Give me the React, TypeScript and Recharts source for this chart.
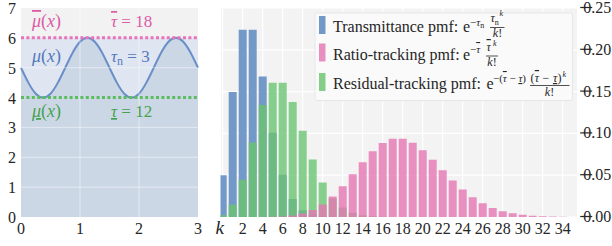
import React from 'react';
import {
  ComposedChart,
  BarChart,
  Bar,
  Area,
  XAxis,
  YAxis,
  CartesianGrid,
  ReferenceLine,
} from 'recharts';

const FONT = '"Liberation Serif", "DejaVu Serif", serif';
const TEXT = '#262626';
const FS = { fontFamily: FONT };

// ---------- left panel data ----------
const xSamples = [
  0, 0.125, 0.25, 0.375, 0.5, 0.625, 0.75, 0.875, 1, 1.125, 1.25, 1.375, 1.5,
  1.625, 1.75, 1.875, 2, 2.125, 2.25, 2.375, 2.5, 2.625, 2.75, 2.875, 3,
];
const muValues = [
  5, 4.5, 4.13, 4, 4.13, 4.5, 5, 5.5, 5.87, 6, 5.87, 5.5, 5, 4.5, 4.13, 4, 4.13,
  4.5, 5, 5.5, 5.87, 6, 5.87, 5.5, 5,
];
const muMajorant = 6;
const muMinorant = 4;
const leftXTicks = [0, 1, 2, 3];
const leftYTicks = [0, 1, 2, 3, 4, 5, 6, 7];
const leftGridX = [1, 2];
const leftGridY = [1, 2, 3, 5];

// ---------- right panel data ----------
const kValues = [
  0, 1, 2, 3, 4, 5, 6, 7, 8, 9, 10, 11, 12, 13, 14, 15, 16, 17, 18, 19, 20, 21,
  22, 23, 24, 25, 26, 27, 28, 29, 30, 31, 32, 33, 34, 35,
];
const transmittancePmf = [
  0.0498, 0.1494, 0.224, 0.224, 0.168, 0.1008, 0.0504, 0.0216, 0.0081, 0.0027,
  0.0008, 0.0002, 0.0001, 0, 0, 0, 0, 0, 0, 0, 0, 0, 0, 0, 0, 0, 0, 0, 0, 0, 0,
  0, 0, 0, 0, 0,
];
const residualPmf = [
  0.0025, 0.0149, 0.0446, 0.0892, 0.1339, 0.1606, 0.1606, 0.1377, 0.1033,
  0.0688, 0.0413, 0.0225, 0.0113, 0.0052, 0.0022, 0.0009, 0.0003, 0.0001, 0, 0,
  0, 0, 0, 0, 0, 0, 0, 0, 0, 0, 0, 0, 0, 0, 0, 0,
];
const ratioPmf = [
  0, 0, 0, 0, 0, 0.0002, 0.0007, 0.0019, 0.0042, 0.0083, 0.015, 0.0245, 0.0368,
  0.051, 0.0655, 0.0786, 0.0885, 0.0936, 0.0936, 0.0887, 0.0798, 0.0684, 0.056,
  0.0438, 0.0328, 0.0237, 0.0164, 0.0109, 0.007, 0.0044, 0.0026, 0.0015,
  0.0008, 0.0005, 0.0002, 0.0001,
];
const rightXTicks = [0, 2, 4, 6, 8, 10, 12, 14, 16, 18, 20, 22, 24, 26, 28, 30, 32, 34];
const rightYTicks = [0, 0.05, 0.1, 0.15, 0.2, 0.25];
const rightYLabels = ['0.00', '0.05', '0.10', '0.15', '0.20', '0.25'];

const BLUE = '#7399c9';
const GREEN = 'rgb(106,196,112)';
const PINK = 'rgb(229,118,179)';

const leftData = xSamples.map((x, i) => ({ x, mu: muValues[i], band: muMajorant }));
const rightData = kValues.map((k, i) => ({
  k,
  transmittance: transmittancePmf[i],
  residual: residualPmf[i],
  ratio: ratioPmf[i],
}));

const LeftXTick = (p: any) => (
  <text x={p.x} y={p.y + 17} textAnchor="middle" fontSize={16} fontFamily={FONT} style={FS} fill={TEXT}>
    {p.payload.value}
  </text>
);
const LeftYTick = (p: any) => (
  <text x={p.x - 5} y={p.y + 6} textAnchor="end" fontSize={16} fontFamily={FONT} style={FS} fill={TEXT}>
    {p.payload.value}
  </text>
);
const RightXTick = (p: any) =>
  p.payload.value === 0 ? (
    <text x={p.x - 3} y={p.y + 16.5} textAnchor="middle" fontSize={19} fontStyle="italic" fontFamily={FONT} style={FS} fill={TEXT}>
      k
    </text>
  ) : (
    <text x={p.x} y={p.y + 17} textAnchor="middle" fontSize={16} fontFamily={FONT} style={FS} fill={TEXT}>
      {p.payload.value}
    </text>
  );
const RightYTick = (p: any) => {
  const idx = rightYTicks.indexOf(p.payload.value);
  return (
    <g>
      <text x={p.x + 5.5} y={p.y + 5} textAnchor="start" fontSize={16} fontFamily={FONT} style={FS} fill={TEXT}>
        {rightYLabels[idx]}
      </text>
      <line x1={p.x + 2.5} x2={p.x + 14.5} y1={p.y - 0.5} y2={p.y - 0.5} stroke={TEXT} strokeWidth={1.2} />
    </g>
  );
};

const it = { fontStyle: 'italic' as const };
const over = { textDecoration: 'overline' };
const under = { textDecoration: 'underline' };

const legendNames = ['Transmittance pmf:', 'Ratio-tracking pmf:', 'Residual-tracking pmf:'];
const legendColors = [BLUE, 'rgb(232,143,192)', 'rgb(134,205,138)'];
const legendBaselines = [32, 59.5, 89];

const Overlay = () => (
  <svg
    width={612}
    height={246}
    style={{ position: 'absolute', left: 0, top: 0, pointerEvents: 'none', fontFamily: FONT }}
    fontFamily={FONT}
  >
    {/* left panel annotations */}
    <g fontSize={18}>
      <text x={32} y={27} fill="#dc5aa6">
        <tspan style={{ ...it, ...over }}>μ</tspan>(<tspan style={it}>x</tspan>)
      </text>
      <text x={111} y={27} fill="#dc5aa6" fontSize={17}>
        <tspan style={{ ...it, ...over }}>τ</tspan> = 18
      </text>
      <text x={32} y={62} fill="#5479bd">
        <tspan style={it}>μ</tspan>(<tspan style={it}>x</tspan>)
      </text>
      <text x={111} y={62} fill="#5479bd" fontSize={17}>
        <tspan style={it}>τ</tspan>
        <tspan fontSize={12} dy={3}>n</tspan>
        <tspan dy={-3}> = 3</tspan>
      </text>
      <text x={32} y={117} fill="#45a24f">
        <tspan style={{ ...it, ...under }}>μ</tspan>(<tspan style={it}>x</tspan>)
      </text>
      <text x={111} y={117} fill="#45a24f" fontSize={17}>
        <tspan style={{ ...it, ...under }}>τ</tspan> = 12
      </text>
    </g>

    {/* legend */}
    <rect x={315} y={13} width={257.5} height={87.5} fill="#fafafa" stroke="#e6e6e6" strokeWidth={1} rx={2} />
    {legendNames.map((name, i) => (
      <g key={name}>
        <rect x={319} y={legendBaselines[i] - 16} width={6.5} height={18} fill={legendColors[i]} />
        <text x={333} y={legendBaselines[i]} fontSize={16} fill={TEXT}>
          {name}
        </text>
      </g>
    ))}
    <g fill={TEXT}>
      {/* row 1 */}
      <text x={463} y={32} fontSize={16}>e</text>
      <text x={470} y={25.5} fontSize={11}>
        −<tspan style={it}>τ</tspan>
        <tspan fontSize={8} dy={2}>n</tspan>
      </text>
      <text x={490.5} y={22} fontSize={12}>
        <tspan style={it}>τ</tspan>
        <tspan fontSize={8} dy={2.5}>n</tspan>
      </text>
      <text x={499.5} y={16} fontSize={8} style={it}>k</text>
      <line x1={490} x2={504.5} y1={27.5} y2={27.5} stroke={TEXT} strokeWidth={0.8} />
      <text x={497.5} y={37} fontSize={12} textAnchor="middle">
        <tspan style={it}>k</tspan>!
      </text>

      {/* row 2 */}
      <text x={463} y={59.5} fontSize={16}>e</text>
      <text x={470} y={53} fontSize={11}>
        −<tspan style={{ ...it, ...over }}>τ</tspan>
      </text>
      <text x={486.5} y={51} fontSize={12}>
        <tspan style={{ ...it, ...over }}>τ</tspan>
      </text>
      <text x={493} y={45.5} fontSize={8} style={it}>k</text>
      <line x1={486} x2={498} y1={56} y2={56} stroke={TEXT} strokeWidth={0.8} />
      <text x={492} y={65.5} fontSize={12} textAnchor="middle">
        <tspan style={it}>k</tspan>!
      </text>

      {/* row 3 */}
      <text x={486.5} y={89} fontSize={16}>e</text>
      <text x={493} y={82} fontSize={11} textLength={33} lengthAdjust="spacing">
        −(<tspan style={{ ...it, ...over }}>τ</tspan> − <tspan style={{ ...it, ...under }}>τ</tspan>)
      </text>
      <text x={530.5} y={82} fontSize={12} textLength={31} lengthAdjust="spacing">
        (<tspan style={{ ...it, ...over }}>τ</tspan> − <tspan style={{ ...it, ...under }}>τ</tspan>)
      </text>
      <text x={562.5} y={76.5} fontSize={8} style={it}>k</text>
      <line x1={530} x2={569.5} y1={85.5} y2={85.5} stroke={TEXT} strokeWidth={0.8} />
      <text x={549.5} y={95.5} fontSize={12} textAnchor="middle">
        <tspan style={it}>k</tspan>!
      </text>
    </g>
  </svg>
);

export default function App() {
  return (
    <div style={{ position: 'absolute', left: 0, top: 0, width: 612, height: 246, background: '#fff', fontFamily: FONT }}>
      <div style={{ position: 'absolute', left: 0, top: 0 }}>
        <ComposedChart width={210} height={246} data={leftData} margin={{ top: 8, right: 12, bottom: 0, left: 0 }}>
          <CartesianGrid fill="#f2f2f2" stroke="none" />
          <XAxis
            dataKey="x"
            type="number"
            domain={[0, 3]}
            ticks={leftXTicks}
            interval={0}
            axisLine={false}
            tickLine={false}
            tickSize={0}
            tickMargin={0}
            height={29}
            tick={<LeftXTick />}
          />
          <YAxis
            type="number"
            domain={[0, 7]}
            ticks={leftYTicks}
            interval={0}
            axisLine={false}
            tickLine={false}
            tickSize={0}
            tickMargin={0}
            width={21}
            tick={<LeftYTick />}
          />
          <Area dataKey="band" type="linear" fill="#dfe6f1" fillOpacity={1} stroke="none" isAnimationActive={false} />
          <Area
            dataKey="mu"
            type="natural"
            fill="#ccd7e6"
            fillOpacity={1}
            stroke="#6a8fc8"
            strokeWidth={2}
            isAnimationActive={false}
          />
          {leftGridX.map((v) => (
            <ReferenceLine key={'gx' + v} x={v} stroke="#ffffff" strokeOpacity={0.45} strokeWidth={1} />
          ))}
          {leftGridY.map((v) => (
            <ReferenceLine key={'gy' + v} y={v} stroke="#ffffff" strokeOpacity={0.45} strokeWidth={1} />
          ))}
          <ReferenceLine y={muMajorant} stroke="#ea72b8" strokeWidth={3} strokeDasharray="3 2.4" />
          <ReferenceLine y={muMinorant} stroke="#5cbd60" strokeWidth={3} strokeDasharray="3 2.4" />
        </ComposedChart>
      </div>
      <div style={{ position: 'absolute', left: 210, top: 0 }}>
        <BarChart
          width={402}
          height={246}
          data={rightData}
          margin={{ top: 8, right: 0, bottom: 0, left: 10.5 }}
          barSize={8}
          barGap={-8}
        >
          <CartesianGrid fill="#f3f3f3" stroke="#ffffff" strokeWidth={1.2} />
          <XAxis
            dataKey="k"
            type="number"
            domain={[-0.22, 35.5]}
            ticks={rightXTicks}
            interval={0}
            allowDataOverflow
            axisLine={false}
            tickLine={false}
            tickSize={0}
            tickMargin={0}
            height={29}
            tick={<RightXTick />}
          />
          <YAxis
            orientation="right"
            type="number"
            domain={[0, 0.25]}
            ticks={rightYTicks}
            interval={0}
            axisLine={false}
            tickLine={false}
            tickSize={0}
            tickMargin={0}
            width={34.3}
            tick={<RightYTick />}
          />
          <Bar dataKey="transmittance" fill={BLUE} isAnimationActive={false} />
          <Bar dataKey="residual" fill={GREEN} fillOpacity={0.8} isAnimationActive={false} />
          <Bar dataKey="ratio" fill={PINK} fillOpacity={0.8} isAnimationActive={false} />
        </BarChart>
      </div>
      <Overlay />
    </div>
  );
}
